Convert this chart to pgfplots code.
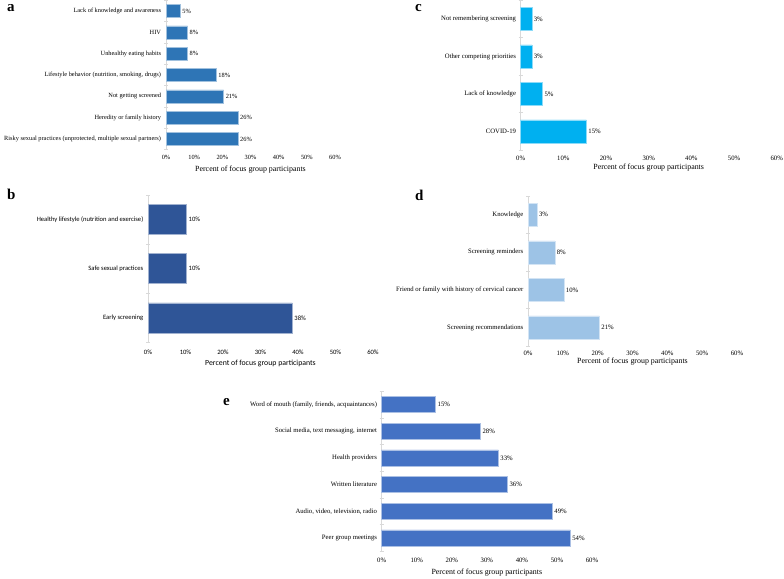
\documentclass[border=0pt]{standalone}
\usepackage{pgfplots}
\pgfplotsset{compat=1.18}
\usepackage{fontspec}
\setmainfont{Liberation Serif}
\newfontfamily\calibri{Carlito}
\definecolor{ca}{HTML}{2E75B6}
\definecolor{cb}{HTML}{2F5597}
\definecolor{cc}{HTML}{00B0F0}
\definecolor{cd}{HTML}{9DC3E6}
\definecolor{ce}{HTML}{4472C4}
\definecolor{axgray}{HTML}{D9D9D9}
\pgfplotsset{
  panel/.style={
    xbar, scale only axis, clip=false,
    xmin=0, xmax=60, ymin=-0.5,
    axis lines*=left,
    x axis line style={draw=none},
    y axis line style={draw=axgray, line width=0.6pt},
    xtick={0,10,...,60},
    xticklabels={0\%,10\%,20\%,30\%,40\%,50\%,60\%},
    major tick length=0pt,
    minor tick length=4pt,
    tick align=center,
    minor tick style={draw=axgray, line width=0.6pt},
    ytick distance=1,
    /pgf/number format/assume math mode=true,
    point meta=explicit symbolic,
    nodes near coords={\pgfplotspointmeta},
    nodes near coords style={anchor=west, inner sep=1.8pt},
    xlabel={Percent of focus group participants},
    xlabel style={at={(axis description cs:0.5,0)}, anchor=center, inner sep=0pt},
    yticklabel style={anchor=east, inner sep=0pt, xshift=-4.5pt},
    xticklabel style={anchor=center, inner sep=0pt},
  },
  serifpanel/.style={
    tick label style={font=\fontsize{6.7}{7.5}\selectfont},
    label style={font=\fontsize{7.9}{9}\selectfont},
    nodes near coords style={font=\fontsize{6.7}{7.5}\selectfont},
  },
}
\begin{document}
\begin{tikzpicture}
\path[use as bounding box] (0,0) rectangle (784pt,578pt);

% panel a
\begin{axis}[panel, serifpanel,
  tick label style={font=\fontsize{6.35}{7.5}\selectfont},
  nodes near coords style={font=\fontsize{6.35}{7.5}\selectfont},
  at={(166pt,428.3pt)}, anchor=south west,
  width=169pt, height=149.4pt, ymax=6.5,
  ytick={0,...,6},
  yticklabels={Risky sexual practices (unprotected{,} multiple sexual partners),
    Heredity or family history, Not getting screened,
    {Lifestyle behavior (nutrition, smoking, drugs)},
    Unhealthy eating habits, HIV, Lack of knowledge and awareness},
  yticklabel style={xshift=-0.3pt},
  minor ytick={-0.5,0.5,...,6.5},
  xticklabel style={yshift=-7.3pt},
  xlabel style={yshift=-20.3pt},
  bar width=13pt]
\addplot[fill=ca, draw=ca!45!white, line width=0.5pt] coordinates {
  (25.6,0) [26\%] (25.6,1) [26\%] (20.5,2) [21\%] (17.9,3) [18\%]
  (7.7,4) [8\%] (7.7,5) [8\%] (5.1,6) [5\%]};
\end{axis}

% panel b
\begin{axis}[panel,
  tick label style={font=\calibri\fontsize{6.6}{7.5}\selectfont},
  label style={font=\calibri\fontsize{7.8}{9}\selectfont},
  nodes near coords style={font=\calibri\fontsize{6.6}{7.5}\selectfont},
  at={(148pt,235.4pt)}, anchor=south west,
  width=225pt, height=147.7pt, ymax=2.5,
  ytick={0,1,2},
  yticklabels={Early screening, Safe sexual practices, Healthy lifestyle (nutrition and exercise)},
  minor ytick={-0.5,0.5,...,2.5},
  xticklabel style={yshift=-9.4pt},
  xlabel style={yshift=-20.4pt},
  bar width=30pt]
\addplot[fill=cb, draw=cb!45!white, line width=0.5pt] coordinates {
  (38.5,0) [38\%] (10.3,1) [10\%] (10.3,2) [10\%]};
\end{axis}

% panel c
\begin{axis}[panel, serifpanel,
  at={(520.7pt,427.75pt)}, anchor=south west,
  width=256pt, height=150pt, ymax=3.5,
  ytick={0,...,3},
  yticklabels={COVID-19, Lack of knowledge, Other competing priorities, Not remembering screening},
  minor ytick={-0.5,0.5,...,3.5},
  xticklabel style={yshift=-7.75pt},
  xlabel style={yshift=-17.75pt},
  bar width=23pt]
\addplot[fill=cc, draw=cc!45!white, line width=0.5pt] coordinates {
  (15.4,0) [15\%] (5.1,1) [5\%] (2.6,2) [3\%] (2.6,3) [3\%]};
\end{axis}

% panel d
\begin{axis}[panel, serifpanel,
  at={(528pt,231.7pt)}, anchor=south west,
  width=209pt, height=150.4pt, ymax=3.5,
  ytick={0,...,3},
  yticklabels={Screening recommendations, Friend or family with history of cervical cancer, Screening reminders, Knowledge},
  minor ytick={-0.5,0.5,...,3.5},
  xticklabel style={yshift=-6.7pt},
  xlabel style={yshift=-15.7pt},
  bar width=23pt]
\addplot[fill=cd, draw=cd!45!white, line width=0.5pt] coordinates {
  (20.5,0) [21\%] (10.3,1) [10\%] (7.7,2) [8\%] (2.6,3) [3\%]};
\end{axis}

% panel e
\begin{axis}[panel, serifpanel,
  at={(381.7pt,26.65pt)}, anchor=south west,
  width=210.3pt, height=160.2pt, ymax=5.5,
  ytick={0,...,5},
  yticklabels={Peer group meetings, {Audio, video, television, radio}, Written literature, Health providers,
    {Social media, text messaging, internet}, {Word of mouth (family, friends, acquaintances)}},
  minor ytick={-0.5,0.5,...,5.5},
  xticklabel style={yshift=-8.65pt},
  xlabel style={yshift=-21.65pt},
  bar width=16pt]
\addplot[fill=ce, draw=ce!45!white, line width=0.5pt] coordinates {
  (53.8,0) [54\%] (48.7,1) [49\%] (35.9,2) [36\%] (33.3,3) [33\%] (28.2,4) [28\%] (15.4,5) [15\%]};
\end{axis}

\node[anchor=base west, inner sep=0pt, font=\fontsize{15}{15}\selectfont\bfseries] at (7pt,566pt) {a};
\node[anchor=base west, inner sep=0pt, font=\fontsize{15}{15}\selectfont\bfseries] at (7pt,378pt) {b};
\node[anchor=base west, inner sep=0pt, font=\fontsize{15}{15}\selectfont\bfseries] at (415pt,566pt) {c};
\node[anchor=base west, inner sep=0pt, font=\fontsize{15}{15}\selectfont\bfseries] at (415pt,377pt) {d};
\node[anchor=base west, inner sep=0pt, font=\fontsize{15}{15}\selectfont\bfseries] at (223pt,172pt) {e};
\end{tikzpicture}
\end{document}
